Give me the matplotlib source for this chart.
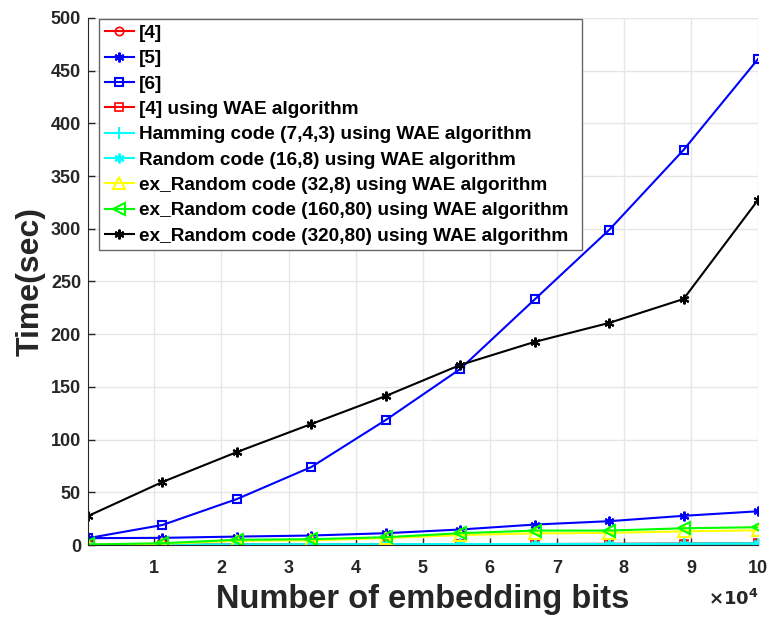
import matplotlib.pyplot as plt
import numpy as np

# embedding bits (x) and timing results (sec)
bits = np.array([100, 11200, 22300, 33400, 44500, 55600, 66700, 77800, 88900, 100000])

ref4 = [0.2, 0.3, 0.4, 0.5, 0.6, 0.7, 0.9, 1.1, 1.3, 1.8]
ref5 = [6.5, 6.8, 8.0, 9.0, 11.2, 14.7, 19.4, 22.6, 27.7, 32.0]
ref6 = [6.5, 19.0, 43.6, 74.0, 118.6, 167.0, 233.0, 298.9, 374.8, 461.0]
ref4_wae = [0.3, 0.4, 0.5, 0.6, 0.7, 0.8, 0.9, 1.0, 1.2, 1.5]
hamming = [0.2, 0.3, 0.4, 0.5, 0.6, 0.7, 0.8, 0.9, 1.1, 1.3]
random16 = [0.3, 0.4, 0.5, 0.6, 0.7, 0.8, 1.0, 1.1, 1.3, 1.6]
exrand32 = [0.3, 1.2, 4.0, 4.5, 6.5, 9.5, 11.0, 11.5, 13.0, 14.0]
exrand160 = [0.5, 1.7, 5.0, 5.5, 7.4, 11.2, 13.7, 13.7, 15.9, 16.9]
exrand320 = [27.5, 59.8, 88.2, 114.8, 141.4, 170.8, 192.7, 210.7, 233.4, 327.3]

labels = ['[4]', '[5]', '[6]', '[4] using WAE algorithm',
          'Hamming code (7,4,3) using WAE algorithm',
          'Random code (16,8) using WAE algorithm',
          'ex_Random code (32,8) using WAE algorithm',
          'ex_Random code (160,80) using WAE algorithm',
          'ex_Random code (320,80) using WAE algorithm']

plt.rcParams['font.family'] = ['Liberation Sans', 'DejaVu Sans']
plt.rcParams['font.weight'] = 'bold'

fig = plt.figure(figsize=(7.69, 6.18), dpi=100)
ax = fig.add_axes([0.1144, 0.1181, 0.8713, 0.8528])

lw = 1.5
ms = 6
ax.plot(bits, ref4, color='red', marker='o', mfc='none', lw=lw, ms=ms, mew=1.2, label=labels[0])
ax.plot(bits, ref5, color='blue', marker=(6, 2, 0), lw=lw, ms=ms + 1, mew=1.5, label=labels[1])
ax.plot(bits, ref6, color='blue', marker='s', mfc='none', lw=lw, ms=ms, mew=1.5, label=labels[2])
ax.plot(bits, ref4_wae, color='red', marker='s', mfc='none', lw=lw, ms=ms, mew=1.2, label=labels[3])
ax.plot(bits, hamming, color='cyan', marker='+', lw=lw, ms=ms + 2, mew=1.5, label=labels[4])
ax.plot(bits, random16, color='cyan', marker=(6, 2, 0), lw=lw, ms=ms + 1, mew=1.5, label=labels[5])
ax.plot(bits, exrand32, color='yellow', marker='^', mfc='none', lw=lw, ms=ms + 3, mew=1.5, label=labels[6])
ax.plot(bits, exrand160, color='#00ff00', marker='<', mfc='none', lw=lw, ms=ms + 3, mew=1.5, label=labels[7])
ax.plot(bits, exrand320, color='black', marker=(6, 2, 0), lw=lw, ms=ms + 1, mew=1.5, label=labels[8])

ax.set_xlim(100, 100000)
ax.set_ylim(0, 500)
ax.set_xticks(np.arange(10000, 100001, 10000))
ax.set_xticklabels([str(i) for i in range(1, 11)])
ax.set_yticks(np.arange(0, 501, 50))
ax.tick_params(direction='in', labelsize=13, colors='#262626', length=5, width=1)
ax.tick_params(axis='x', pad=11)
ax.tick_params(axis='y', pad=5)
for lbl in ax.get_xticklabels() + ax.get_yticklabels():
    lbl.set_fontweight('bold')
ax.grid(True, color='#e6e6e6', lw=1)
ax.set_axisbelow(True)
ax.spines['top'].set_visible(False)
ax.spines['right'].set_visible(False)
ax.spines['left'].set_color('#262626')
ax.spines['bottom'].set_color('#262626')

ax.set_xlabel('Number of embedding bits', fontsize=23.5, fontweight='bold', color='#262626', labelpad=5)
ax.set_ylabel('Time(sec)', fontsize=23, fontweight='bold', color='#262626', labelpad=4)
ax.text(1.0, -0.103, r'$\times\mathbf{10^4}$', transform=ax.transAxes, fontsize=13,
        ha='right', va='center', color='#262626')

leg = ax.legend(loc='upper left', bbox_to_anchor=(0.0164, 0.5446, 0.721, 0.4535), mode='expand',
                prop={'weight': 'bold', 'size': 13.7}, fancybox=False, framealpha=1,
                edgecolor='#666666', handlelength=1.55, handletextpad=0.27,
                labelspacing=0.42, borderpad=0.3, borderaxespad=0)
leg.get_frame().set_linewidth(1.0)

fig.savefig('out.png', dpi=100)
